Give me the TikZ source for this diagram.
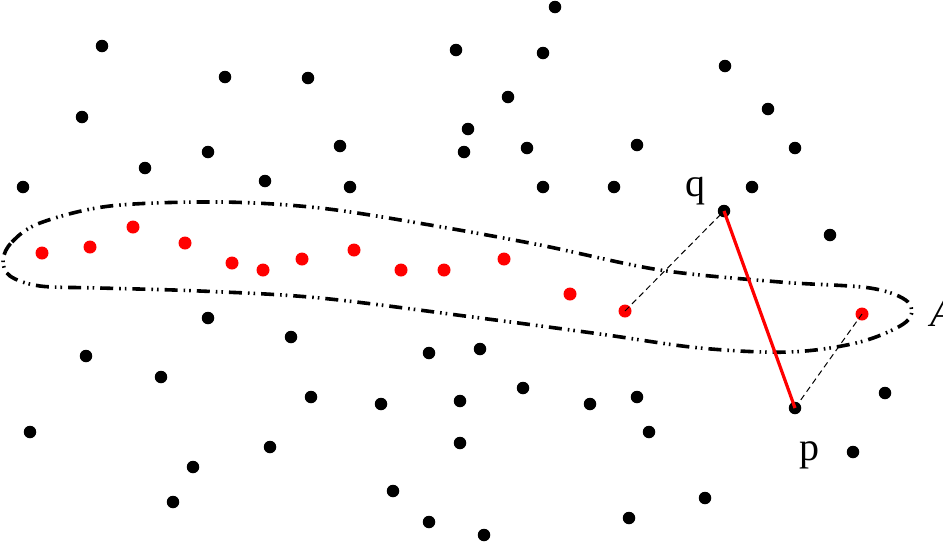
\documentclass[tikz,border=0pt]{standalone}
\usepackage{fontspec}
\setmainfont{Liberation Serif}
\begin{document}
\begin{tikzpicture}[x=1pt,y=-1pt,
  bdot/.style={circle,fill=black,inner sep=0pt,minimum size=12.5pt},
  rdot/.style={circle,fill=red,inner sep=0pt,minimum size=13pt},
  region/.style={line width=3.6pt,dash pattern=on 13pt off 6pt on 1.6pt off 4pt on 1.6pt off 6pt},
  thindash/.style={line width=1pt,dash pattern=on 6pt off 4pt},
  seg/.style={red,line width=3.2pt},
  lbl/.style={font=\fontsize{40}{40}\selectfont,inner sep=0pt}]
\useasboundingbox (0,0) rectangle (943,542);
% region A
\draw[region] plot[smooth cycle,tension=0.55] coordinates {
  (3,260) (12,242) (40,223) (110,206) (220,202) (320,208) (430,225) (540,245)
  (660,270) (780,282) (870,288) (908,302) (906,322) (860,342) (790,352)
  (700,348) (600,334) (480,318) (320,298) (200,291) (100,288) (40,286) (10,276)};
\node[lbl,font=\fontsize{40}{40}\selectfont\itshape,anchor=west] (A) at (930,313) {A};
% black points
\foreach \i/\x/\y in {1/555/7,2/102/46,3/456/50,4/543/53,5/225/77,6/308/78,7/725/66,
  8/508/97,9/82/117,10/768/109,11/468/129,12/145/168,13/208/152,14/340/146,15/464/152,
  16/527/148,17/637/145,18/795/148,19/23/187,20/265/181,21/350/187,22/543/187,23/614/187,
  24/752/187,25/830/235,26/208/318,27/291/337,28/86/356,29/429/353,30/480/349,31/161/377,
  32/311/397,33/381/404,34/460/401,35/523/388,36/590/404,37/637/397,38/885/393,39/30/432,
  40/270/447,41/460/443,42/649/432,43/853/452,44/193/467,45/173/502,46/393/491,47/705/498,
  48/429/522,49/484/535,50/629/518}
  \node[bdot] (b\i) at (\x,\y) {};
% red points
\foreach \i/\x/\y in {1/42/253,2/90/247,3/133/227,4/185/243,5/232/263,6/263/270,7/302/259,
  8/354/250,9/401/270,10/444/270,11/504/259,12/570/294,13/625/311,14/862/314}
  \node[rdot] (r\i) at (\x,\y) {};
% q and p
\node[bdot] (q) at (724,211) {};
\node[bdot] (p) at (795,408) {};
\node[lbl] (ql) at (695,191) {q};
\node[lbl] (pl) at (809,455) {p};
% connectors
\draw[thindash] (r13.center) -- (q.center);
\draw[thindash] (p.center) -- (r14.center);
\draw[seg] (q.center) -- (p.center);
\end{tikzpicture}
\end{document}
